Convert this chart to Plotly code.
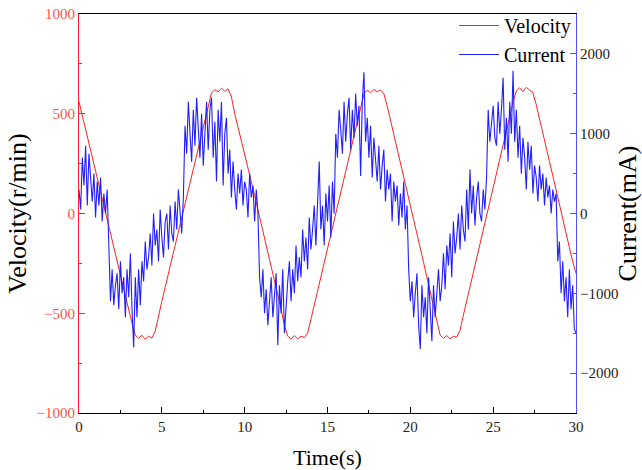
import plotly.graph_objects as go

# Velocity (r/min) sampled every 0.2 s
velocity = [
    560, 490, 425, 350, 285, 215, 140, 75, 0, -65,
    -135, -205, -270, -345, -410, -480, -550, -610, -625, -610,
    -630, -615, -625, -590, -510, -440, -370, -300, -230, -165,
    -90, -20, 50, 120, 190, 260, 330, 400, 470, 545,
    605, 620, 610, 628, 612, 625, 585, 500, 435, 360,
    290, 230, 160, 90, 20, -50, -120, -190, -260, -330,
    -400, -480, -560, -615, -630, -612, -628, -615, -622, -600,
    -530, -460, -390, -320, -250, -180, -110, -40, 30, 100,
    170, 240, 315, 385, 455, 530, 600, 618, 605, 622,
    610, 620, 600, 540, 470, 400, 330, 260, 190, 115,
    45, -25, -100, -170, -245, -320, -390, -465, -540, -610,
    -625, -612, -628, -615, -620, -585, -510, -440, -370, -300,
    -230, -160, -90, -20, 50, 125, 195, 265, 340, 410,
    485, 560, 615, 630, 612, 632, 618, 605, 545, 470,
    400, 330, 260, 190, 115, 45, -30, -100, -170, -240,
    -300,
]
vel_t = [round(i * 0.2, 1) for i in range(len(velocity))]

# Current (mA) sampled every 0.1 s
current = [
    300, 50, 700, 350, 850, 100, 750, 400, 150, 500,
    -50, 400, 100, 450, -100, 250, 0, 300, -600, -1100,
    -700, -1150, -900, -750, -1200, -600, -1000, -800, -1300, -700,
    -1050, -500, -1200, -1680, -800, -1300, -700, -1150, -600, -850,
    -350, -700, -550, -250, -650, 0, -400, -200, -600, 50,
    -300, -550, -100, 0, -450, 100, -250, -350, 150, -200,
    300, -50, -250, 200, 1100, 750, 1400, 1000, 650, 1300,
    850, 1450, 1100, 700, 1250, 600, 1000, 1400, 800, 1300,
    1450, 700, 1150, 400, 1300, 900, 1400, 350, 1000, 1200,
    500, 800, 200, 650, 300, 50, 500, 250, 550, 100,
    400, 300, -50, 500, 200, 350, -100, 300, 0, -800,
    -1050, -700, -1250, -950, -1400, -1100, -800, -1300, -1000, -750,
    -1650, -900, -1250, -700, -1500, -1100, -850, -600, -1100, -700,
    -1000, -400, -850, -550, -800, -200, -600, -300, -700, -50,
    -450, -200, 100, -400, 150, 650, -200, 100, -400, 250,
    -100, 350, -300, 400, 0, 1000, 700, 1300, 1050, 750,
    1400, 900, 1250, 1450, 800, 1300, 950, 1500, 1100, 1350,
    470, 1400, 1770, 900, 1200, 700, 1100, 450, 950, 700,
    400, 850, 300, 600, 800, 150, 550, 300, 500, -100,
    400, 150, 350, -150, 250, -50, 400, -200, 100, -700,
    -1100, -850, -1300, -1000, -750, -1400, -1700, -900, -1300, -1050,
    -1500, -800, -1200, -1600, -900, -1300, -1000, -700, -1100, -900,
    -500, -950, -400, -650, -250, -800, -100, -500, -300, 0,
    -450, 100, -200, -350, 300, -200, 550, 0, 350, -150,
    200, 400, 0, -100, 300, 50, 450, 1300, 900, 1100,
    1350, 950, 850, 1400, 1000, 1300, 1700, 800, 1200, 650,
    1400, 1000, 1790, 900, 1300, 700, 1100, 500, 950, 700,
    300, 900, 550, 850, 250, 600, 450, 150, 600, 300,
    500, 100, 450, 200, 350, 0, 300, 150, 250, -600,
    -350, -1000, -600, -1100, -800, -1300, -700, -1200, -900, -1450,
    -1500,
]
cur_t = [round(i * 0.1, 1) for i in range(len(current))]

x_ticks = [0, 5, 10, 15, 20, 25, 30]
vel_ticks = [-1000, -500, 0, 500, 1000]
cur_ticks = [-2000, -1000, 0, 1000, 2000]

serif = "Liberation Serif, Times New Roman, serif"
RED = "#ff2020"
BLUE = "#2020ff"

fig = go.Figure()
fig.add_trace(go.Scatter(x=vel_t, y=velocity, name="Velocity", mode="lines",
                         line=dict(color=RED, width=1)))
fig.add_trace(go.Scatter(x=cur_t, y=current, name="Current", mode="lines",
                         yaxis="y2", line=dict(color=BLUE, width=1.1)))

fig.update_layout(
    width=642, height=470,
    margin=dict(l=79, r=66, t=14, b=57, autoexpand=False),
    paper_bgcolor="white", plot_bgcolor="white",
    font=dict(family=serif, color="black", size=15),
    showlegend=True,
    legend=dict(x=1, y=1.02, xanchor="right", yanchor="top",
                bgcolor="rgba(0,0,0,0)", font=dict(size=20, family=serif),
                itemwidth=40, tracegroupgap=0),
    xaxis=dict(range=[0, 30], tickvals=x_ticks, showgrid=False, zeroline=False,
               automargin=False,
               showline=True, linecolor="black", linewidth=1.2, mirror=True,
               ticks="inside", ticklen=6, tickcolor="black",
               minor=dict(dtick=2.5, ticks="inside", ticklen=3, tickcolor="black"),
               tickfont=dict(size=15, color="#222"),
               title=dict(text="Time(s)", font=dict(size=22), standoff=16)),
    yaxis=dict(range=[-1000, 1000], tickvals=vel_ticks, showgrid=False, zeroline=False,
               automargin=False,
               showline=True, linecolor=RED, linewidth=1.2,
               ticks="inside", ticklen=6, tickcolor=RED,
               minor=dict(dtick=250, ticks="inside", ticklen=3, tickcolor=RED),
               tickfont=dict(size=15, color="#ff5050"),
               title=dict(text="Velocity(r/min)", font=dict(size=26), standoff=2)),
    yaxis2=dict(range=[-2500, 2500], tickvals=cur_ticks, overlaying="y", side="right",
                showgrid=False, zeroline=False, automargin=False,
                showline=True, linecolor="#5050ff", linewidth=1.2,
                ticks="inside", ticklen=6, tickcolor="#5050ff",
                minor=dict(dtick=500, ticks="inside", ticklen=3, tickcolor="#5050ff"),
                tickfont=dict(size=15, color="#222"),
                title=dict(text="Current(mA)", font=dict(size=26), standoff=2)),
)

fig.write_html("out.html")
